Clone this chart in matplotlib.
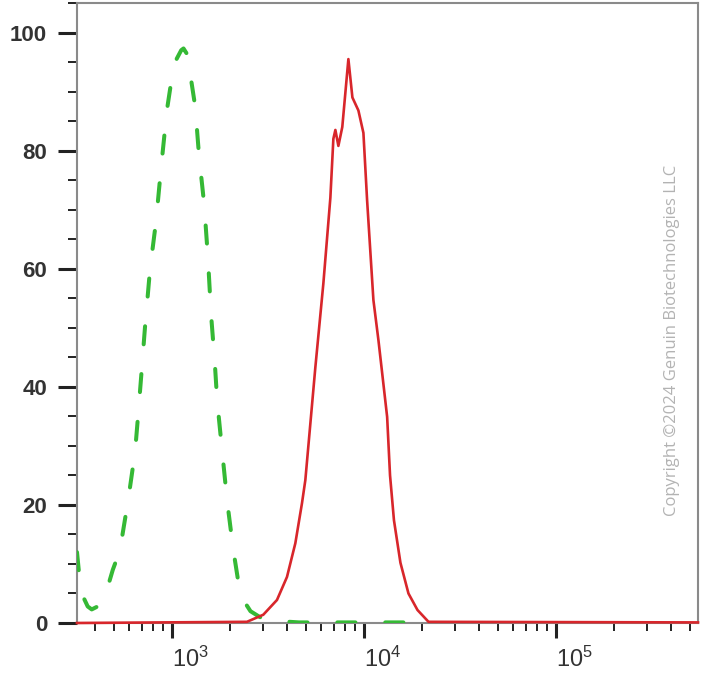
import numpy as np
import matplotlib
matplotlib.use('Agg')
import matplotlib.pyplot as plt
from matplotlib.ticker import FixedLocator, FixedFormatter, MultipleLocator, NullFormatter

# fuente para las etiquetas de los ejes
plt.rcParams['font.family'] = ['Liberation Sans', 'DejaVu Sans']
plt.rcParams['mathtext.fontset'] = 'custom'
plt.rcParams['mathtext.rm'] = 'Liberation Sans'
plt.rcParams['mathtext.it'] = 'Liberation Sans'
plt.rcParams['mathtext.bf'] = 'Liberation Sans:bold'

# Control (linea verde discontinua)
green_x = [321, 330, 345, 365, 383, 411, 438, 468, 493, 537, 571, 591, 644, 666, 694,
           725, 771, 828, 879, 945, 997, 1059, 1120, 1151, 1193, 1234, 1324, 1388, 1474,
           1542, 1604, 1676, 1724, 1831, 1945, 2089, 2220, 2356, 2570, 2878, 3290, 4600,
           9000, 20000]
green_y = [12, 8, 4.5, 2.8, 2.3, 2.8, 4.3, 6.5, 9, 12.3, 17.6, 20.5, 29, 34.7, 42,
           50, 60, 68, 77, 87, 92, 95.5, 97, 97.3, 96.5, 94, 87.5, 79, 71,
           62, 52, 44, 37.6, 29, 20.5, 12.5, 7, 3.9, 2, 1, 0.4, 0.1,
           0.1, 0.1]

# Muestra (linea roja)
red_x = [321, 2464, 2996, 3531, 3981, 4400, 4766, 4961, 5594, 6158, 6697, 6943, 7112,
         7373, 7727, 8313, 8723, 9373, 9954, 10404, 11221, 11918, 13230, 13697, 14357,
         15517, 17084, 19037, 21723, 550000]
red_y = [0, 0.2, 1.4, 3.9, 7.8, 13.5, 20.3, 24.2, 43.3, 57.5, 72, 82, 83.5,
         80.8, 84, 95.5, 89, 86.8, 83, 71.6, 54.7, 47.9, 34.9, 25, 17.4,
         10.2, 5, 2.2, 0.2, 0.1]

x_major = [1e3, 1e4, 1e5]
x_major_labels = [r'$\mathregular{10^{3}}$', r'$\mathregular{10^{4}}$', r'$\mathregular{10^{5}}$']
y_major = [0, 20, 40, 60, 80, 100]

fig = plt.figure(figsize=(7.09, 6.85), dpi=100)
ax = fig.add_axes([77 / 709, 1 - 623 / 685, (698 - 77) / 709, (623 - 3) / 685])

ax.plot(green_x, green_y, color='#35b935', lw=2.9, dashes=(4.5, 7.4),
        dash_capstyle='round', zorder=3)
ax.plot(red_x, red_y, color='#d8262b', lw=1.9, zorder=4, clip_on=False)

ax.set_xscale('log')
ax.set_xlim(321, 5.5e5)
ax.set_ylim(0, 105)

# ticks del eje x
minor_x = [m * 10 ** e for e in range(2, 6) for m in range(2, 10)]
ax.xaxis.set_major_locator(FixedLocator(x_major))
ax.xaxis.set_major_formatter(FixedFormatter(x_major_labels))
ax.xaxis.set_minor_locator(FixedLocator(minor_x))
ax.xaxis.set_minor_formatter(NullFormatter())
for lab in ax.get_xticklabels():
    lab.set_horizontalalignment('left')

ax.yaxis.set_major_locator(FixedLocator(y_major))
ax.yaxis.set_minor_locator(MultipleLocator(5))

ax.tick_params(axis='x', which='major', direction='out', length=11, width=2.2,
               color='#222222', labelsize=17, labelcolor='#333333', pad=6)
ax.tick_params(axis='x', which='minor', direction='out', length=5.8, width=1.4,
               color='#222222')
ax.tick_params(axis='y', which='major', direction='out', length=13.5, width=2.2,
               color='#222222', labelsize=16, labelcolor='#333333', pad=8)
ax.tick_params(axis='y', which='minor', direction='out', length=6.5, width=1.4,
               color='#222222')
for lab in ax.get_yticklabels():
    lab.set_fontweight('bold')

for side in ['left', 'right', 'top', 'bottom']:
    ax.spines[side].set_color('#8a8a8a')
    ax.spines[side].set_linewidth(1.5)

fig.text(672 / 709, 1 - 340 / 685, 'Copyright \u00a92024 Genuin Biotechnologies LLC',
         rotation=90, ha='center', va='center', fontsize=12, color='#b3b3b3',
         family=['Open Sans', 'DejaVu Sans'])

fig.savefig('out.png', dpi=100)
